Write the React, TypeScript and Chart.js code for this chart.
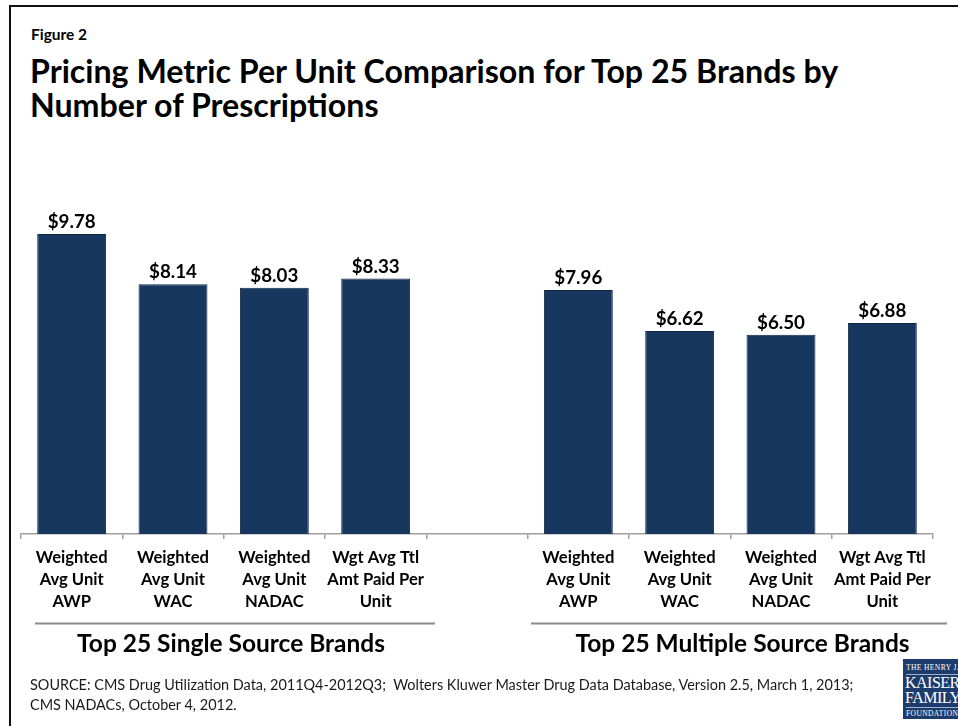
import React, { useEffect, useMemo, useRef } from 'react';
import { Chart, registerables } from 'chart.js';

Chart.register(...registerables);

// ---------- data ----------
const figureLabel = 'Figure 2';
const titleLines = [
  'Pricing Metric Per Unit Comparison for Top 25 Brands by',
  'Number of Prescriptions',
];
const metricLabels: string[][] = [
  ['Weighted', 'Avg Unit', 'AWP'],
  ['Weighted', 'Avg Unit', 'WAC'],
  ['Weighted', 'Avg Unit', 'NADAC'],
  ['Wgt Avg Ttl', 'Amt Paid Per', 'Unit'],
];
const singleSourceValues = [9.78, 8.14, 8.03, 8.33];
const multipleSourceValues = [7.96, 6.62, 6.5, 6.88];
const groupLabels = ['Top 25 Single Source Brands', 'Top 25 Multiple Source Brands'];
const sourceLines = [
  'SOURCE: CMS Drug Utilization Data, 2011Q4-2012Q3;  Wolters Kluwer Master Drug Data Database, Version 2.5, March 1, 2013;',
  'CMS NADACs, October 4, 2012.',
];
const logoLines = ['THE HENRY J. KAISER', 'KAISER', 'FAMILY', 'FOUNDATION'];

// ---------- layout / style ----------
const FONT = "Lato, 'Open Sans', 'Noto Sans', sans-serif";
const SERIF = "'Liberation Serif', 'DejaVu Serif', serif";
const BAR_COLOR = '#17375E';
const BAR_BORDER = '#0E2846';
const AXIS_COLOR = '#A0A0A0';
const RULE_COLOR = '#8A8A8A';
const W = 958;
const H = 726;
const RULE_Y = 623.5;
const GROUP_BASELINE = 651.5;
const GROUP_RULES = [
  { left: -0.362, right: 0.586, shift: -4 },
  { left: -0.467, right: 0.639, shift: 3.5 },
];

export default function App() {
  const canvasRef = useRef<HTMLCanvasElement>(null);

  const sizes = useMemo(() => {
    const c = document.createElement('canvas').getContext('2d')!;
    const fit = (text: string, weight: number, target: number) => {
      c.font = `${weight} 100px ${FONT}`;
      return (100 * target) / c.measureText(text).width;
    };
    const baseOff = (weight: number, size: number, lh: number) => {
      c.font = `${weight} ${size}px ${FONT}`;
      const m = c.measureText('Hg');
      const a = m.fontBoundingBoxAscent;
      const d = m.fontBoundingBoxDescent;
      return (lh - (a + d)) / 2 + a;
    };
    const title = fit(titleLines[0], 700, 811);
    const figure = fit(figureLabel, 700, 56);
    const source = fit(sourceLines[0], 400, 825);
    return {
      title,
      titleTop: 83 - baseOff(700, title, 34),
      figure,
      figureTop: 39.5 - baseOff(700, figure, 20),
      source,
      sourceTop: 690.5 - baseOff(400, source, 20),
      tick: fit('Weighted', 700, 72),
      value: fit('$9.78', 700, 48),
      group: fit(groupLabels[0], 700, 308),
    };
  }, []);

  useEffect(() => {
    const canvas = canvasRef.current;
    if (!canvas) return;
    const values: (number | null)[] = [...singleSourceValues, null, ...multipleSourceValues];
    const labels: string[][] = [...metricLabels, [''], ...metricLabels];
    const groupSpans = [
      [0, singleSourceValues.length - 1],
      [singleSourceValues.length + 1, values.length - 1],
    ];

    const valueLabelPlugin = {
      id: 'valueLabels',
      afterDatasetsDraw(chart: any) {
        const { ctx } = chart;
        const meta = chart.getDatasetMeta(0);
        ctx.save();
        ctx.font = `700 ${sizes.value}px ${FONT}`;
        ctx.fillStyle = '#000';
        ctx.textAlign = 'center';
        ctx.textBaseline = 'alphabetic';
        meta.data.forEach((bar: any, i: number) => {
          const v = values[i];
          if (v == null) return;
          ctx.fillText('$' + v.toFixed(2), bar.x, bar.y - 6);
        });
        ctx.restore();
      },
    };

    const groupPlugin = {
      id: 'groupLabels',
      afterDraw(chart: any) {
        const { ctx } = chart;
        const x = chart.scales.x;
        const cw = x.getPixelForValue(1) - x.getPixelForValue(0);
        ctx.save();
        groupSpans.forEach(([s, e], g) => {
          const l = x.getPixelForValue(s) + GROUP_RULES[g].left * cw;
          const r = x.getPixelForValue(e) + GROUP_RULES[g].right * cw;
          ctx.strokeStyle = RULE_COLOR;
          ctx.lineWidth = 2;
          ctx.beginPath();
          ctx.moveTo(l, RULE_Y);
          ctx.lineTo(r, RULE_Y);
          ctx.stroke();
          ctx.font = `700 ${sizes.group}px ${FONT}`;
          ctx.fillStyle = '#000';
          ctx.textAlign = 'center';
          ctx.textBaseline = 'alphabetic';
          ctx.fillText(groupLabels[g], (l + r) / 2 + GROUP_RULES[g].shift, GROUP_BASELINE);
        });
        ctx.restore();
      },
    };

    const chart = new Chart(canvas, {
      type: 'bar',
      data: {
        labels,
        datasets: [
          {
            data: values,
            backgroundColor: BAR_COLOR,
            borderColor: BAR_BORDER,
            borderWidth: 1,
            categoryPercentage: 1,
            barPercentage: 0.68,
          },
        ],
      },
      options: {
        responsive: false,
        animation: false,
        layout: { padding: { left: 21, right: 25, top: 166, bottom: 92 } },
        plugins: {
          legend: { display: false },
          tooltip: { enabled: false },
          title: { display: false },
        },
        scales: {
          x: {
            grid: {
              display: true,
              drawOnChartArea: false,
              drawTicks: true,
              tickLength: 5,
              offset: true,
              color: AXIS_COLOR,
              lineWidth: 1.5,
            },
            border: { display: true, color: AXIS_COLOR, width: 1.5 },
            ticks: {
              color: '#000',
              font: { family: FONT, weight: 'bold', size: sizes.tick, lineHeight: '22px' },
              padding: 8,
              maxRotation: 0,
              minRotation: 0,
              autoSkip: false,
            },
            afterFit: (scale: any) => {
              scale.height = 100;
            },
          },
          y: { display: false, min: 0, max: 12 },
        },
      } as any,
      plugins: [valueLabelPlugin, groupPlugin],
    });
    return () => chart.destroy();
  }, [sizes]);

  return (
    <div
      style={{
        position: 'fixed',
        left: 0,
        top: 0,
        width: W,
        height: H,
        overflow: 'hidden',
        background: '#fff',
        fontFamily: FONT,
      }}
    >
      <div
        style={{
          position: 'absolute',
          left: 9,
          top: 5,
          width: 1000,
          height: 800,
          borderLeft: '2px solid #111',
          borderTop: '2px solid #111',
          boxSizing: 'border-box',
        }}
      />
      <div
        style={{
          position: 'absolute',
          left: 31,
          top: sizes.figureTop,
          fontSize: sizes.figure,
          fontWeight: 700,
          lineHeight: '20px',
          whiteSpace: 'nowrap',
          color: '#000',
        }}
      >
        {figureLabel}
      </div>
      <div
        style={{
          position: 'absolute',
          left: 30,
          top: sizes.titleTop,
          fontSize: sizes.title,
          fontWeight: 700,
          lineHeight: '34px',
          whiteSpace: 'nowrap',
          color: '#000',
        }}
      >
        {titleLines.map((l) => (
          <div key={l}>{l}</div>
        ))}
      </div>
      <canvas
        ref={canvasRef}
        width={W}
        height={H}
        style={{ position: 'absolute', left: 0, top: 0, width: W, height: H }}
      />
      <div
        style={{
          position: 'absolute',
          left: 30,
          top: sizes.sourceTop,
          fontSize: sizes.source,
          fontWeight: 400,
          lineHeight: '20px',
          whiteSpace: 'pre',
          color: '#1a1a1a',
        }}
      >
        {sourceLines.map((l) => (
          <div key={l}>{l}</div>
        ))}
      </div>
      <div
        style={{
          position: 'absolute',
          left: 903,
          top: 659,
          width: 70,
          height: 60,
          background: '#1D3C6E',
          color: '#fff',
          fontFamily: SERIF,
          overflow: 'hidden',
        }}
      >
        <div style={{ position: 'absolute', left: 3, top: 4, fontSize: 7.5, lineHeight: '9px', letterSpacing: 0.4, whiteSpace: 'nowrap' }}>
          {logoLines[0]}
        </div>
        <div style={{ position: 'absolute', left: 3, top: 15, width: 64, borderTop: '1px solid rgba(255,255,255,0.6)' }} />
        <div style={{ position: 'absolute', left: 2, top: 16, fontSize: 16, lineHeight: '16px', letterSpacing: -0.5, whiteSpace: 'nowrap' }}>
          {logoLines[1]}
        </div>
        <div style={{ position: 'absolute', left: 2, top: 31, fontSize: 16, lineHeight: '16px', letterSpacing: -0.5, whiteSpace: 'nowrap' }}>
          {logoLines[2]}
        </div>
        <div style={{ position: 'absolute', left: 3, top: 48, width: 64, borderTop: '1px solid rgba(255,255,255,0.6)' }} />
        <div style={{ position: 'absolute', left: 3, top: 50, fontSize: 7.5, lineHeight: '9px', letterSpacing: 0.4, whiteSpace: 'nowrap' }}>
          {logoLines[3]}
        </div>
      </div>
    </div>
  );
}
